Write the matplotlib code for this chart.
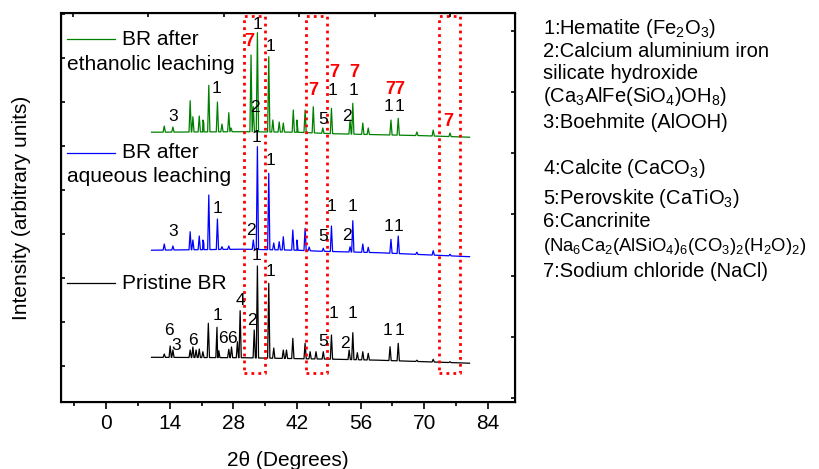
import matplotlib
matplotlib.use("Agg")
import matplotlib.pyplot as plt
from matplotlib.lines import Line2D
import numpy as np

plt.rcParams['font.family'] = ['Liberation Sans', 'DejaVu Sans']
plt.rcParams['mathtext.fontset'] = 'custom'
plt.rcParams['mathtext.rm'] = 'Liberation Sans'
plt.rcParams['mathtext.it'] = 'Liberation Sans:italic'
plt.rcParams['mathtext.bf'] = 'Liberation Sans:bold'

# ---- data (2theta in degrees, intensity in arbitrary offset units) ----
# pristine BR
base_pris_x = [10, 30, 43, 50, 60, 70, 80]
base_pris_y = [44.4, 44, 43, 42.5, 41.5, 40, 38.5]
peak_pris_x = [12.8, 14.1, 14.7, 18.5, 19.1, 19.8, 20.5, 21.3, 22.5, 24.4, 24.8,
               27.0, 27.6, 28.9, 29.5, 32.6, 33.3, 35.8, 36.9, 39.0, 39.7, 41.1,
               43.8, 44.9, 46.2, 47.8, 49.6, 53.5, 54.3, 55.3, 56.5, 57.7, 62.5,
               64.3, 68.4, 72.0, 75.7]
peak_pris_y = [47.7, 55.7, 51.7, 51.7, 54.7, 51.7, 52.7, 50, 78.4, 74.4, 51,
               52.4, 54.7, 60, 91, 71.7, 135.7, 118.4, 53.7, 51.7, 51.7, 63.4,
               58.4, 50, 50, 50, 66.7, 51.7, 69, 49, 50, 48.4, 55,
               58.4, 41.5, 42.4, 40]

# BR after aqueous leaching
base_aq_x = [10, 30, 42, 47, 60, 70, 80]
base_aq_y = [151.5, 152.5, 151.5, 150.5, 149, 147, 145]
peak_aq_x = [12.8, 14.7, 18.5, 19.1, 20.5, 21.3, 21.5, 22.6, 24.5, 25.5, 27.0,
             32.4, 33.3, 35.8, 36.9, 38.1, 39.0, 41.1, 42.0, 43.8, 44.7, 47.8,
             49.6, 53.7, 54.3, 56.5, 57.7, 62.7, 64.3, 68.4, 72.0, 75.7]
peak_aq_y = [157.7, 155.7, 170, 161.7, 165.7, 161.7, 158.7, 206.7, 182.7, 155, 155.7,
             161.7, 255, 228.4, 158.7, 160, 165, 171.7, 161.7, 173.4, 154.7, 153.5,
             175.7, 155, 181, 157.7, 154.4, 162.4, 165.7, 149.5, 151, 147.5]

# BR after ethanolic leaching
base_eth_x = [10, 30, 42, 50, 60, 70, 80]
base_eth_y = [269.5, 270, 269.5, 268, 267, 266, 264.5]
peak_eth_x = [12.8, 14.7, 18.5, 19.1, 20.5, 21.3, 21.5, 22.6, 24.5, 25.5, 27.0,
              27.5, 31.9, 32.4, 33.3, 35.8, 36.7, 38.1, 39.0, 41.2, 42.0, 43.8,
              45.6, 47.7, 49.6, 53.7, 54.3, 56.5, 57.7, 62.7, 64.3, 68.4, 72.0, 75.7]
peak_eth_y = [275.7, 274.7, 301, 285, 285.7, 281.7, 278.7, 316.4, 299.7, 277.7, 289,
              273.7, 346.7, 295, 369, 345, 281.7, 279.7, 278.7, 291.7, 281.7, 291.7,
              295, 273.7, 293.4, 281.7, 298.4, 278.7, 273.7, 281.7, 283.4, 269.7, 271.7, 268.7]

# phase labels: (2theta, y, text)
lab_eth = [(14.8, 285.7, '3'), (24.4, 313.4, '1'), (33.4, 377.7, '1'), (36.1, 355, '1'),
           (32.8, 294.4, '2'), (47.7, 282.4, '5'), (49.9, 311, '1'), (53.0, 285.7, '2'),
           (54.4, 311, '1'), (62.1, 295, '1'), (64.6, 295, '1')]
lab_eth_nacl = [(31.5, 360), (45.6, 311), (50.2, 329), (54.6, 329), (62.5, 312.4),
                (64.5, 312.4), (75.2, 280)]
lab_aq = [(14.8, 170, '3'), (24.6, 193.4, '1'), (31.9, 171.7, '2'), (33.2, 264.7, '1'),
          (36.2, 241.7, '1'), (47.8, 165, '5'), (49.7, 195, '1'), (53.0, 166.7, '2'),
          (54.3, 195, '1'), (62.1, 175.7, '1'), (64.3, 175.7, '1')]
lab_pris = [(13.9, 71.7, '6'), (15.5, 56.7, '3'), (19.1, 61.7, '6'), (24.5, 86.7, '1'),
            (25.7, 63.4, '6'), (27.7, 63.4, '6'), (29.5, 101, '4'), (32.2, 81.7, '2'),
            (33.2, 146.7, '1'), (36.1, 130, '1'), (47.7, 60, '5'), (50.0, 88.4, '1'),
            (52.6, 58.4, '2'), (54.3, 88.4, '1'), (62.0, 71.7, '1'), (64.6, 71.7, '1')]

# NaCl highlight boxes (2theta ranges)
box_lo = [30.4, 44.0, 73.3]
box_hi = [35.0, 48.6, 77.9]
box_bottom, box_top = 28.4, 386

phases = ['1:Hematite (Fe$_2$O$_3$)',
          '2:Calcium aluminium iron',
          'silicate hydroxide',
          '(Ca$_3$AlFe(SiO$_4$)OH$_8$)',
          '3:Boehmite (AlOOH)',
          '4:Calcite (CaCO$_3$)',
          '5:Perovskite (CaTiO$_3$)',
          '6:Cancrinite',
          '(Na$_6$Ca$_2$(AlSiO$_4$)$_6$(CO$_3$)$_2$(H$_2$O)$_2$)',
          '7:Sodium chloride (NaCl)']
phase_y = [29, 51.7, 73.3, 96.7, 122.7, 168.3, 198.3, 221.7, 246.7, 271.7]
phase_size = [14.5, 14.5, 14.5, 14.5, 14.5, 14.5, 14.5, 14.5, 13.3, 14.5]


def pattern(bx, by, px, py, w=0.25):
    # baseline knots plus a narrow triangle for each peak
    xs = list(bx)
    ys = list(by)
    for p, h in zip(px, py):
        for dx in (-w, w):
            xs.append(p + dx)
            ys.append(np.interp(p + dx, bx, by))
        xs.append(p)
        ys.append(h)
    order = np.argsort(xs, kind='stable')
    return np.array(xs)[order], np.array(ys)[order]


fig = plt.figure(figsize=(8.19, 4.69), dpi=100)
ax = fig.add_axes([0.0741, 0.1435, 0.5547, 0.8281])

x, y = pattern(base_pris_x, base_pris_y, peak_pris_x, peak_pris_y)
ax.plot(x, y, color='black', lw=0.9)
x, y = pattern(base_aq_x, base_aq_y, peak_aq_x, peak_aq_y)
ax.plot(x, y, color='#0000ff', lw=0.9)
x, y = pattern(base_eth_x, base_eth_y, peak_eth_x, peak_eth_y)
ax.plot(x, y, color='#008000', lw=0.9)

for lo, hi in zip(box_lo, box_hi):
    ax.plot([lo, hi, hi, lo, lo], [box_bottom, box_bottom, box_top, box_top, box_bottom],
            color='red', lw=2, linestyle=(0, (1, 1.5)))

for labs in (lab_eth, lab_aq, lab_pris):
    for px_, py_, t in labs:
        ax.text(px_, py_, t, ha='center', va='center', fontsize=12.5)
for px_, py_ in lab_eth_nacl:
    ax.text(px_, py_, '7', ha='center', va='center', fontsize=13,
            color='red', fontweight='bold')

# legend-like labels
leg = [('#008000', 0.933, 'BR after', 'ethanolic leaching', 0.867),
       ('#0000ff', 0.641, 'BR after', 'aqueous leaching', 0.579),
       ('black', 0.305, 'Pristine BR', None, None)]
for c, ly, t1, t2, ly2 in leg:
    ax.add_line(Line2D([0.014, 0.1195], [ly, ly], color=c, lw=0.9, transform=ax.transAxes))
    ax.text(0.135, ly, t1, transform=ax.transAxes, va='center', fontsize=15)
    if t2:
        ax.text(0.014, ly2, t2, transform=ax.transAxes, va='center', fontsize=15)

ax.set_xlim(-10, 90)
ax.set_ylim(0, 388.4)
ax.set_xticks(np.arange(0, 85, 14))
ax.set_xticks(np.arange(-7, 90, 14), minor=True)
ax.set_yticks(np.arange(35.7, 388, 44))
ax.set_yticklabels([])
ax.tick_params(axis='x', which='major', direction='out', length=5, width=1.2, labelsize=15)
ax.tick_params(axis='x', which='minor', direction='out', length=3, width=1.2)
ax.tick_params(axis='y', direction='in', length=3, width=1.2)
for s in ax.spines.values():
    s.set_linewidth(1.5)

ax_t = ax.twiny()
ax_t.set_xlim(ax.get_xlim())
ax_t.set_xticks(np.arange(-7.3, 90, 16.6))
ax_t.set_xticklabels([])
ax_t.tick_params(axis='x', direction='in', length=3, width=1.2)
ax_r = ax.twinx()
ax_r.set_ylim(ax.get_ylim())
ax_r.set_yticks(np.arange(3.7, 388, 61.2))
ax_r.set_yticklabels([])
ax_r.tick_params(axis='y', direction='in', length=3, width=1.2)

ax.set_xlabel('2θ (Degrees)', fontsize=15, labelpad=13)
ax.set_ylabel('Intensity (arbitrary units)', fontsize=15, labelpad=18)

for t, yy, fs in zip(phases, phase_y, phase_size):
    fig.text(543 / 819, 1 - yy / 469, t, va='center', ha='left', fontsize=fs)

fig.savefig('out.png', dpi=100)
